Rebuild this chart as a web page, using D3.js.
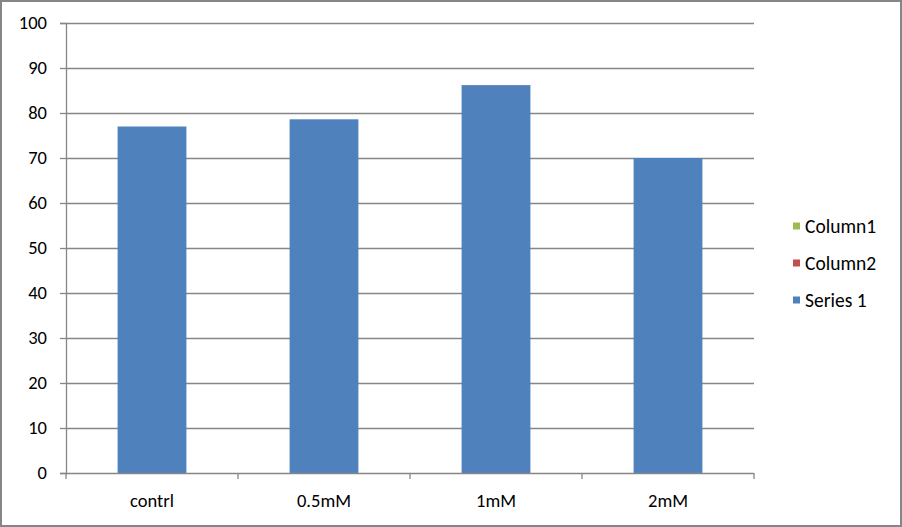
<!DOCTYPE html>
<html>
<head>
<meta charset="utf-8">
<script src="https://cdn.jsdelivr.net/npm/d3@7"></script>
<style>
  body { margin: 0; background: #fff; }
  text { font-family: Carlito, Calibri, Lato, "Open Sans", sans-serif; }
</style>
</head>
<body>
<div id="chart"></div>
<script>
const categories = ["contrl", "0.5mM", "1mM", "2mM"];
const series1 = [77, 78.6, 86.2, 70];
const yTicks = [0, 10, 20, 30, 40, 50, 60, 70, 80, 90, 100];
const legendNames = ["Column1", "Column2", "Series 1"];
const legendColors = ["#9bbb59", "#c0504d", "#4f81bd"];

const W = 902, H = 527;
const margin = { top: 23, left: 66, bottom: 54, right: 148 };
const width = W - margin.left - margin.right;
const height = H - margin.top - margin.bottom;

const svg = d3.select("#chart").append("svg")
    .attr("width", W).attr("height", H);

// outer chart border
svg.append("rect")
    .attr("x", 1).attr("y", 1)
    .attr("width", W - 2).attr("height", H - 2)
    .attr("fill", "#fff")
    .attr("stroke", "#868686")
    .attr("stroke-width", 2);

const g = svg.append("g").attr("transform", `translate(${margin.left},${margin.top})`);

const x = d3.scaleBand().domain(categories).range([0, width]).paddingInner(0.6).paddingOuter(0.3);
const xEdge = d3.scaleBand().domain(categories).range([0, width]);
const y = d3.scaleLinear().domain([0, 100]).range([height, 0]);

// gridlines
g.selectAll("line.grid")
    .data(yTicks.filter(d => d > 0))
    .join("line")
    .attr("class", "grid")
    .attr("x1", 0).attr("x2", width)
    .attr("y1", d => Math.round(y(d)) + 0.5).attr("y2", d => Math.round(y(d)) + 0.5)
    .attr("stroke", "#868686")
    .attr("stroke-width", 1.3);

// bars
g.selectAll("rect.bar")
    .data(series1)
    .join("rect")
    .attr("class", "bar")
    .attr("x", (d, i) => x(categories[i]))
    .attr("y", d => y(d))
    .attr("width", x.bandwidth())
    .attr("height", d => height - y(d))
    .attr("fill", "#4f81bd");

// y axis
const yAxis = g.append("g")
    .call(d3.axisLeft(y).tickValues(yTicks).tickSize(6).tickPadding(13));
yAxis.selectAll("path, line").attr("stroke", "#868686").attr("stroke-width", 1.3);
yAxis.selectAll("text").attr("font-size", 18.5).attr("fill", "#000");

// x axis with ticks at category boundaries
const xAxisG = g.append("g").attr("transform", `translate(0,${height})`);
xAxisG.append("line")
    .attr("x1", 0).attr("x2", width)
    .attr("y1", 0.5).attr("y2", 0.5)
    .attr("stroke", "#868686").attr("stroke-width", 1.3);
xAxisG.selectAll("line.tick")
    .data(categories.concat(["end"]))
    .join("line")
    .attr("class", "tick")
    .attr("x1", (d, i) => i * xEdge.bandwidth()).attr("x2", (d, i) => i * xEdge.bandwidth())
    .attr("y1", 0).attr("y2", 6)
    .attr("stroke", "#868686").attr("stroke-width", 1.3);
xAxisG.selectAll("text")
    .data(categories)
    .join("text")
    .attr("x", d => xEdge(d) + xEdge.bandwidth() / 2)
    .attr("y", 34)
    .attr("text-anchor", "middle")
    .attr("font-size", 18.5)
    .text(d => d);

// legend
const legendG = svg.append("g").attr("transform", "translate(793,226)");
const item = legendG.selectAll("g")
    .data(legendNames)
    .join("g")
    .attr("transform", (d, i) => `translate(0,${i * 37})`);
item.append("rect")
    .attr("x", 0).attr("y", -3.5)
    .attr("width", 7).attr("height", 7)
    .attr("fill", (d, i) => legendColors[i]);
item.append("text")
    .attr("x", 12).attr("y", 7)
    .attr("font-size", 19.5)
    .text(d => d);
</script>
</body>
</html>
